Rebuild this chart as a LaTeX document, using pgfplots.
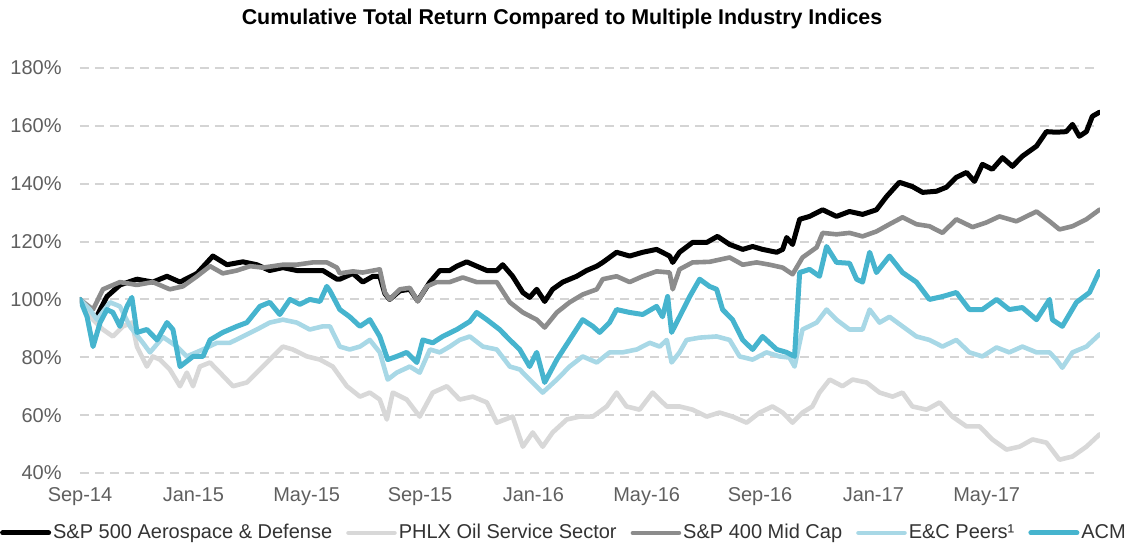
\documentclass[border=0pt]{standalone}
\usepackage{pgfplots}
\pgfplotsset{compat=1.18}
\usepackage{fontspec}
\setmainfont{Liberation Sans}
\definecolor{cAD}{RGB}{0,0,0}
\definecolor{cPHLX}{RGB}{216,216,216}
\definecolor{cMID}{RGB}{140,140,140}
\definecolor{cEC}{RGB}{168,216,230}
\definecolor{cACM}{RGB}{70,180,206}
\definecolor{cTick}{RGB}{95,95,95}
\definecolor{cGrid}{RGB}{212,212,212}
\begin{document}
\begin{tikzpicture}[x=1pt,y=1pt]
\useasboundingbox (-40,-37) rectangle (525.5,236.5);
\node[font=\fontsize{10.7}{12}\selectfont\bfseries, anchor=center] at (241,227) {Cumulative Total Return Compared to Multiple Industry Indices};
\begin{axis}[
  at={(0,0)}, anchor=south west,
  scale only axis, width=510pt, height=202.5pt,
  xmin=0, xmax=36, ymin=40, ymax=180,
  axis line style={draw=none},
  major tick length=0pt,
  xtick={0,4,8,12,16,20,24,28,32},
  xticklabels={Sep-14,Jan-15,May-15,Sep-15,Jan-16,May-16,Sep-16,Jan-17,May-17},
  ytick={40,60,80,100,120,140,160,180},
  yticklabel={\pgfmathprintnumber{\tick}\%},
  /pgf/number format/assume math mode=true,
  tick label style={font=\fontsize{10}{12}\selectfont, text=cTick},
  yticklabel style={anchor=east, inner sep=0pt, xshift=-9pt},
  xticklabel style={anchor=north, inner sep=0pt, yshift=-7pt},
  ymajorgrids,
  major grid style={cGrid, line width=1pt, dash pattern=on 4.5pt off 3pt},
  legend columns=5,
  legend style={at={(0.4745,-0.148)}, anchor=center, draw=none, fill=none,
    font=\fontsize{10}{12}\selectfont, text=black!80,
    /tikz/every even column/.append style={column sep=6pt},
    inner sep=0pt, nodes={inner sep=1pt}},
  legend image code/.code={\draw[#1] (0pt,0pt) -- (23pt,0pt);},
  every axis plot/.append style={line join=round, line cap=round},
]
\addplot[cAD, line width=2.5pt] coordinates {
(0,100) (0.53,93) (0.95,101) (1.41,105) (2.01,107) (2.57,106) (3.07,108) (3.53,106) (4.13,109) (4.69,115) (5.19,112) (5.75,113) (6.24,112) (6.70,110) (7.16,111) (7.65,110) (8.11,110) (8.57,110) (9.07,107) (9.17,107) (9.63,109) (9.98,106) (10.34,108) (10.58,108) (10.76,102) (10.93,100) (11.29,103) (11.64,103.5) (11.92,99.5) (12.35,106) (12.70,110) (13.05,110) (13.30,111.5) (13.65,113) (14.00,111.5) (14.36,110) (14.71,110) (14.92,112) (15.27,108) (15.63,102.4) (15.87,100.7) (16.12,103.5) (16.40,99.3) (16.68,103.5) (17.04,106) (17.53,108) (17.88,110) (18.24,111.5) (18.45,112.8) (18.94,116.3) (19.40,115) (19.86,116.3) (20.35,117.3) (20.81,115) (20.92,112.8) (21.16,116.3) (21.62,119.7) (22.12,119.7) (22.50,121.8) (22.93,119) (23.39,117.3) (23.74,118.3) (24.09,117.3) (24.59,116.3) (24.80,117.3) (24.94,121.4) (25.15,119) (25.40,127.7) (25.75,128.7) (26.21,131) (26.70,128.7) (27.16,130.4) (27.62,129.4) (28.11,131) (28.47,135.6) (28.92,140.5) (29.38,139) (29.74,137) (30.23,137.4) (30.58,138.8) (30.93,142.2) (31.29,143.9) (31.57,140.8) (31.85,146.7) (32.20,145) (32.56,149) (32.91,146) (33.26,149.5) (33.76,153) (34.11,158) (34.46,157.8) (34.81,158) (35.03,160.5) (35.27,156.4) (35.52,158) (35.73,163.3) (35.98,164.7)
};
\addlegendentry{S\&P 500 Aerospace \& Defense}
\addplot[cPHLX, line width=2.3pt] coordinates {
(0,100) (0.46,93) (0.81,89.6) (1.16,87.2) (1.52,90.7) (1.83,92) (2.01,83.7) (2.36,76.8) (2.57,80.3) (2.82,79.2) (3.17,75.8) (3.53,70) (3.77,74.7) (3.99,70) (4.23,76.8) (4.59,78.2) (4.94,74.7) (5.40,70) (5.89,71.3) (6.35,75.8) (6.81,80.3) (7.16,83.7) (7.51,82.7) (8.01,80.3) (8.47,79.2) (8.92,76.8) (9.42,70) (9.88,66.4) (10.23,67.8) (10.58,65.4) (10.83,58.5) (11.04,67.8) (11.53,65.4) (11.99,59.5) (12.45,67.8) (12.95,70) (13.40,65.4) (13.86,66.4) (14.36,64.4) (14.71,57.4) (15.27,59.5) (15.63,49.1) (15.98,54) (16.33,49.1) (16.68,54) (17.18,58.5) (17.64,59.5) (18.10,59.5) (18.59,63) (18.94,67.8) (19.29,63) (19.75,61.9) (20.21,67.8) (20.71,63) (21.16,63) (21.62,61.9) (22.12,59.5) (22.57,60.9) (23.03,59.5) (23.53,57.4) (23.99,60.9) (24.44,63) (24.80,60.9) (25.15,57.4) (25.50,60.9) (25.85,63) (26.10,67.8) (26.46,72.3) (26.91,70) (27.27,72.3) (27.76,71.3) (28.22,67.8) (28.68,66.4) (29.03,67.8) (29.38,63) (29.88,61.9) (30.34,64.4) (30.79,59.5) (31.29,56.1) (31.75,56.1) (32.20,51.6) (32.70,48.1) (33.16,49.1) (33.62,51.6) (34.11,50.5) (34.57,44.6) (35.03,45.7) (35.52,49.1) (35.98,53.3)
};
\addlegendentry{PHLX Oil Service Sector}
\addplot[cMID, line width=2.3pt] coordinates {
(0,100) (0.46,96.5) (0.81,103.5) (1.41,106) (2.01,105) (2.57,106) (3.17,103.5) (3.63,104.5) (4.13,108) (4.59,111.5) (5.04,109) (5.54,110) (6.00,111.5) (6.46,111) (7.16,112) (7.65,112) (8.22,112.8) (8.71,112.8) (9.07,111) (9.17,109) (9.63,109.7) (9.98,109.3) (10.58,110.4) (10.76,102.4) (10.93,100) (11.29,103.5) (11.64,104) (11.92,99.3) (12.24,104.5) (12.59,106) (13.05,106) (13.51,107.6) (14.00,106) (14.71,106) (15.17,99) (15.63,95.5) (16.12,93) (16.40,90.3) (16.83,95.5) (17.28,99) (17.74,101.7) (18.24,103.5) (18.45,107) (18.94,108) (19.40,106) (19.86,108) (20.35,109.7) (20.81,109.3) (20.92,103.5) (21.16,110.4) (21.62,112.8) (22.22,113) (22.93,114.5) (23.39,112) (23.88,112.8) (24.34,112) (24.80,111) (25.15,108.7) (25.50,114.5) (26.00,118) (26.21,123) (26.70,122.5) (27.16,123) (27.62,121.8) (28.11,123.5) (28.57,126) (29.03,128.4) (29.52,126) (29.98,125.3) (30.44,123) (30.93,127.7) (31.50,125) (31.99,126.6) (32.45,128.7) (33.05,127) (33.76,130.4) (34.22,127) (34.57,124.2) (35.03,125.3) (35.52,127.7) (35.98,131)
};
\addlegendentry{S\&P 400 Mid Cap}
\addplot[cEC, line width=2.3pt] coordinates {
(0,100) (0.35,96.5) (0.60,93) (1.06,99) (1.41,97.6) (1.76,90.7) (2.22,85) (2.47,81.7) (2.93,87) (3.42,83.7) (3.77,80.3) (4.34,82.7) (4.83,85) (5.29,85) (5.75,87.2) (6.24,89.6) (6.70,92) (7.16,93) (7.65,92) (8.11,89.6) (8.57,90.7) (8.82,90.7) (9.17,83.7) (9.52,82.7) (9.88,83.7) (10.23,86) (10.58,81.7) (10.86,72.3) (11.18,74.7) (11.64,76.8) (11.99,74.7) (12.35,82.7) (12.70,81.7) (13.05,83.7) (13.40,86) (13.76,87.2) (14.22,83.7) (14.71,82.7) (15.17,76.8) (15.52,75.8) (15.87,72.3) (16.33,67.8) (16.83,72.3) (17.28,76.8) (17.74,80.3) (18.24,78.2) (18.69,81.7) (19.15,81.7) (19.65,82.7) (20.11,85) (20.46,83.7) (20.71,86) (20.88,78.2) (21.16,81.7) (21.41,86) (21.87,86.8) (22.47,87.2) (22.93,86) (23.28,80.3) (23.74,79.2) (24.23,81.7) (24.69,80.3) (25.04,79.9) (25.22,76.8) (25.50,89.6) (26.00,92) (26.35,96.5) (26.70,93) (27.16,89.6) (27.62,89.6) (27.87,96.5) (28.22,92) (28.57,94) (29.03,90.7) (29.52,87.2) (29.98,86) (30.44,83.7) (30.93,86) (31.39,81.7) (31.85,80.3) (32.35,83.4) (32.80,81.7) (33.26,83.7) (33.76,81.7) (34.22,81.7) (34.46,79.2) (34.67,76.4) (35.03,81.7) (35.52,83.7) (35.98,87.9)
};
\addlegendentry{E\&C Peers¹}
\addplot[cACM, line width=2.5pt] coordinates {
(0,100) (0.25,94) (0.46,83.7) (0.71,92) (0.95,96.5) (1.16,95.5) (1.41,90.7) (1.66,97.6) (1.83,100.7) (2.01,88.6) (2.36,89.6) (2.72,86) (3.07,92) (3.28,89.6) (3.53,76.8) (3.99,80.3) (4.34,80.3) (4.59,86) (5.04,88.6) (5.54,90.7) (5.89,92) (6.35,97.6) (6.70,99) (7.05,94.8) (7.41,100) (7.76,98.3) (8.11,100) (8.47,99.3) (8.71,104.5) (8.82,103) (9.17,96.5) (9.52,94) (9.88,90.7) (10.23,93) (10.58,87.2) (10.86,79.2) (11.18,80.3) (11.53,81.7) (11.89,78.2) (12.10,86) (12.45,85) (12.80,87.2) (13.30,89.6) (13.76,92.4) (14.00,95.5) (14.36,93) (14.81,89.6) (15.17,86) (15.52,82.7) (15.87,76.8) (16.12,81.7) (16.40,71.3) (16.83,79.2) (17.28,86) (17.74,93) (18.10,90.7) (18.34,88.6) (18.69,92) (18.94,96.5) (19.40,95.5) (19.86,94.8) (20.35,97.6) (20.56,94) (20.74,101) (20.88,88.6) (21.16,94) (21.52,101) (21.87,107) (22.22,104.5) (22.47,103.5) (22.68,96.5) (23.03,93) (23.39,86) (23.74,82.7) (24.09,87.2) (24.59,82.7) (24.94,81.7) (25.22,80.3) (25.40,109.3) (25.75,110.4) (26.10,108) (26.35,118.3) (26.70,112.8) (27.16,112.5) (27.41,107) (27.62,106) (27.87,116.3) (28.11,109.3) (28.57,115) (29.03,109.3) (29.52,106) (29.98,100) (30.44,101) (30.93,102.4) (31.39,96.5) (31.85,96.5) (32.35,100) (32.80,96.5) (33.26,97.2) (33.76,93) (34.22,100) (34.32,93) (34.67,90.7) (35.17,99) (35.63,102.4) (35.98,109.7)
};
\addlegendentry{ACM}
\end{axis}
\end{tikzpicture}
\end{document}
